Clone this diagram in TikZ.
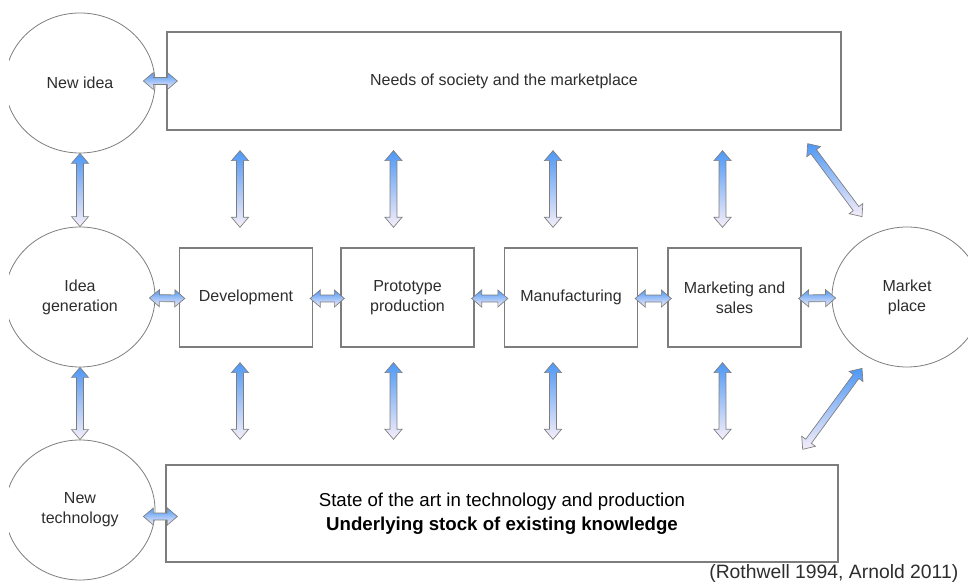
\documentclass[tikz,border=0pt]{standalone}
\usepackage{fontspec}
\setmainfont{Liberation Sans}
\usepackage{tikz}
\usetikzlibrary{shapes,arrows,positioning,calc}

\definecolor{arrowblue}{RGB}{78,152,245}
\definecolor{arrowpale}{RGB}{246,238,249}
\definecolor{edgegray}{RGB}{125,125,125}
\definecolor{labelgray}{RGB}{45,45,45}

% double headed block arrow between two points
\newcommand{\biarrow}[2]{%
  \path #1 coordinate (ba) #2 coordinate (bb);
  \coordinate (ha) at ($(ba)!7.5pt!(bb)$);
  \coordinate (hb) at ($(bb)!7.5pt!(ba)$);
  \shade[blockarrow] (ba) -- ($(ha)!6.4pt!90:(bb)$) -- ($(ha)!2.6pt!90:(bb)$)
    -- ($(hb)!2.6pt!-90:(ba)$) -- ($(hb)!6.4pt!-90:(ba)$) -- (bb)
    -- ($(hb)!6.4pt!90:(ba)$) -- ($(hb)!2.6pt!90:(ba)$)
    -- ($(ha)!2.6pt!-90:(bb)$) -- ($(ha)!6.4pt!-90:(bb)$) -- cycle;
}

\begin{document}
\begin{tikzpicture}[x=0.75pt, y=-0.75pt,
    bubble/.style={ellipse, draw=edgegray, line width=0.6pt, minimum width=112.5pt,
        minimum height=105pt, inner sep=0pt, align=center, text=labelgray, font=\fontsize{12}{15}\selectfont},
    stage/.style={rectangle, draw=edgegray, line width=1pt, minimum width=99.75pt,
        minimum height=74.25pt, align=center, text=labelgray, font=\fontsize{12}{15}\selectfont},
    blockarrow/.style={draw=edgegray, line width=0.5pt, top color=arrowblue, bottom color=arrowpale}]
    \useasboundingbox (0,0) rectangle (968,584);
    \clip (9,0) rectangle (968,584);

    % Circles
    \node[bubble] (newidea) at (80,83) {New idea};
    \node[bubble] (ideagen) at (80,297) {Idea\\generation};
    \node[bubble] (newtech) at (80,510) {New\\technology};
    \node[bubble] (market) at (907,297) {Market\\place};

    % Boxes
    \node[stage, minimum width=505.5pt, minimum height=73.5pt] (needs) at (504,81) {Needs of society and the marketplace};
    \node[stage, minimum width=504pt, minimum height=72.75pt, text=black, font=\fontsize{14}{18}\selectfont] (state) at (502,513.5)
        {State of the art in technology and production\\\textbf{Underlying stock of existing knowledge}};
    \node[stage] (dev) at (246,297.5) {Development};
    \node[stage] (proto) at (407.5,297.5) {Prototype\\production};
    \node[stage] (manuf) at (571,297.5) {Manufacturing};
    \node[stage] (mkt) at (734.5,297.5) {Marketing and\\sales};

    \node[anchor=base east, text=labelgray, font=\fontsize{14.5}{16}\selectfont] (cite) at (963,578) {(Rothwell 1994, Arnold 2011)};

    % Left column
    \biarrow{(newidea.south)}{(ideagen.north)}
    \biarrow{(ideagen.south)}{(newtech.north)}
    \biarrow{($(newidea.east |- needs.west)+(-12,0)$)}{($(needs.west)+(11,0)$)}
    \biarrow{($(newtech.east |- state.west)+(-12,3)$)}{($(state.west)+(12,3)$)}

    % Middle row
    \biarrow{($(ideagen.east)+(-6,1)$)}{($(dev.west)+(6,1)$)}
    \foreach \a/\b in {dev/proto, proto/manuf, manuf/mkt, mkt/market} {
        \biarrow{($(\a.east)+(-3,1)$)}{($(\b.west)+(4,1)$)}
    }

    % Up to needs, down to state of the art
    \foreach \b/\dx in {dev/-6, proto/-14, manuf/-18, mkt/-12} {
        \biarrow{($(\b.north |- needs.south)+(\dx,20)$)}{($(\b.north)+(\dx,-20)$)}
        \biarrow{($(\b.south)+(\dx,15)$)}{($(\b.south |- state.north)+(\dx,-25)$)}
    }

    % Market place
    \biarrow{($(needs.south east)+(-34,13)$)}{($(market.north)+(-45,-10)$)}
    \biarrow{($(market.south)+(-45,1)$)}{($(state.north east)+(-36,-15)$)}
\end{tikzpicture}
\end{document}
